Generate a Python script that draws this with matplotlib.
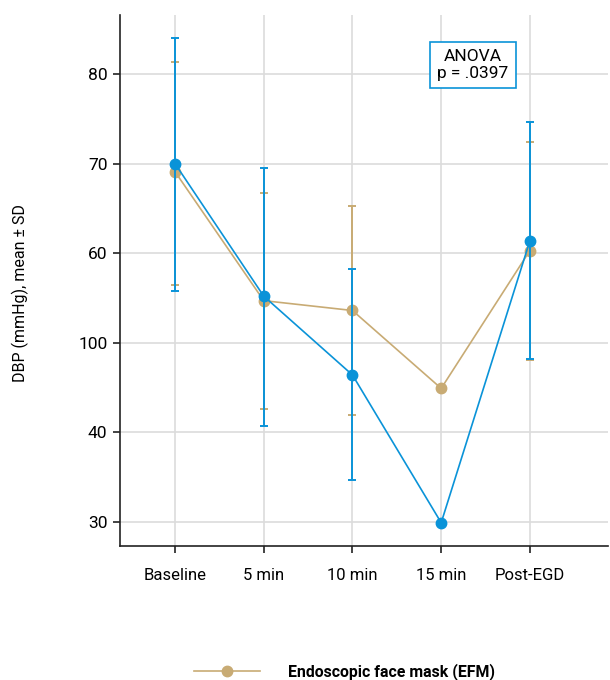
import matplotlib
matplotlib.use("Agg")
import matplotlib.pyplot as plt
import numpy as np

plt.rcParams['font.family'] = ['Roboto', 'DejaVu Sans']

categories = ["Baseline", "5 min", "10 min", "15 min", "Post-EGD"]
ytick_values = [30, 40, 50, 60, 70, 80]
ytick_labels = ["30", "40", "100", "60", "70", "80"]

efm_mean = [69.1, 54.7, 53.6, 44.9, 60.3]
efm_low = [56.4, 42.6, 41.9, np.nan, 48.1]
efm_high = [81.4, 66.7, 65.3, np.nan, 72.4]

other_mean = [70.0, 55.2, 46.4, 29.9, 61.4]
other_low = [55.8, 40.7, 34.7, np.nan, 48.2]
other_high = [84.0, 69.5, 58.2, np.nan, 74.7]

series_names = ["Endoscopic face mask (EFM)", "Standard nasal cannula"]

blue = "#0a93d8"
tan = "#c8ab74"

fig = plt.figure(figsize=(6.1, 6.8), dpi=100)
ax = fig.add_axes([120/610, 1-546/680, (608-120)/610, (546-15)/680])

x = np.arange(len(categories))

def draw(mean, low, high, color, label, z):
    mean = np.array(mean); low = np.array(low); high = np.array(high)
    yerr = np.vstack([mean - low, high - mean])
    ax.errorbar(x, mean, yerr=yerr, fmt='none', ecolor=color, elinewidth=1.4,
                capsize=3, capthick=1.4, zorder=z)
    ax.plot(x, mean, '-o', color=color, lw=1.2, ms=7.5, label=label, zorder=z + 0.5)

draw(efm_mean, efm_low, efm_high, tan, series_names[0], 3)
draw(other_mean, other_low, other_high, blue, series_names[1], 4)

ax.set_xlim(-0.62, 4.88)
ax.set_ylim(27.3, 86.6)
ax.set_xticks(x)
ax.set_xticklabels(categories, fontsize=12)
ax.set_yticks(ytick_values)
ax.set_yticklabels(ytick_labels, fontsize=12.5)
ax.grid(True, color="#dcdcdc", lw=1.2)
ax.set_axisbelow(True)
for s in ["top", "right"]:
    ax.spines[s].set_visible(False)
for s in ["left", "bottom"]:
    ax.spines[s].set_linewidth(1.2)
    ax.spines[s].set_color("#222222")
ax.tick_params(axis='both', length=5, width=1.2, color="#222222")
ax.tick_params(axis='x', pad=11)
ax.tick_params(axis='y', pad=4)

fig.text(20/610, 1-293/680, "DBP (mmHg), mean \u00b1 SD", rotation=90,
         ha='center', va='center', fontsize=11.5)

fig.text(473/610, 1-65/680, "ANOVA\np = .0397", ha='center', va='center',
         fontsize=12.5, linespacing=1.1,
         bbox=dict(boxstyle='square,pad=0.42', fc='white', ec=blue, lw=1.2))

handles, labels = ax.get_legend_handles_labels()
leg = fig.legend([handles[0]], [labels[0]], loc='center left',
                 bbox_to_anchor=(181/610, 1-672/680), frameon=False,
                 handlelength=4.2, handletextpad=1.75, borderpad=0.3,
                 prop={'weight': 'bold', 'size': 11.4})

fig.savefig("out.png", dpi=100)
